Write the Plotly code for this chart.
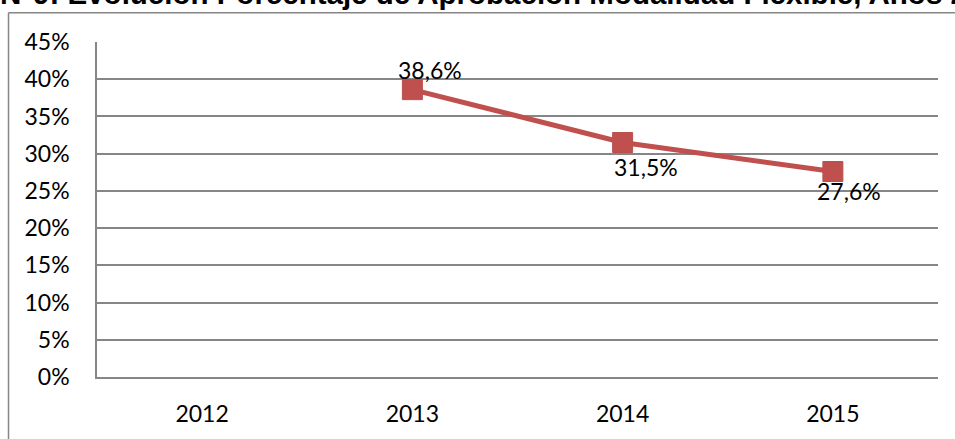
import plotly.graph_objects as go

years = ["2012", "2013", "2014", "2015"]
aprobacion = [None, 38.6, 31.5, 27.6]
etiquetas = ["", "38,6%", "31,5%", "27,6%"]
y_ticks = [0, 5, 10, 15, 20, 25, 30, 35, 40, 45]
y_tick_text = [f"{v}%" for v in y_ticks]
titulo = "N°9: Evolución Porcentaje de Aprobación Modalidad Flexible, Años 2012-2015"

# label offsets (px) relative to marker
label_dx = [0, 18, 23, 16]
label_dy = [0, 20, -24, -19]

W, H = 955, 439
L, R, T, B = 97, 17, 42, 60
pw, ph = W - L - R, H - T - B

RED = "#C0504D"
GRAY = "#868686"
FONT = "Lato"
FS = 23

fig = go.Figure()
fig.add_trace(go.Scatter(
    x=years, y=aprobacion, mode="lines+markers",
    line=dict(color=RED, width=5),
    marker=dict(symbol="square", size=20, color=RED, line=dict(color="#B9504D", width=1)),
    connectgaps=False, showlegend=False, hoverinfo="skip",
))

for i, (yv, t, dx, dy) in enumerate(zip(aprobacion, etiquetas, label_dx, label_dy)):
    if yv is None:
        continue
    fig.add_annotation(x=i, y=yv, text=t, showarrow=False, xshift=dx, yshift=dy,
                       font=dict(family=FONT, size=FS, color="#000000"))

def px_x(p):
    return (p - L) / pw

def px_y(p):
    return (H - B - p) / ph

# outer chart frame (clipped by page on right/bottom)
fig.add_shape(type="line", xref="paper", yref="paper",
              x0=px_x(8.5), x1=px_x(970), y0=px_y(12.5), y1=px_y(12.5),
              line=dict(color=GRAY, width=1.5))
fig.add_shape(type="line", xref="paper", yref="paper",
              x0=px_x(8.5), x1=px_x(8.5), y0=px_y(12.5), y1=px_y(460),
              line=dict(color=GRAY, width=1.5))

fig.add_annotation(xref="paper", yref="paper", x=px_x(-2), y=px_y(12),
                   xanchor="left", yanchor="bottom", showarrow=False,
                   text=f"<b>{titulo}</b>",
                   font=dict(family="Liberation Sans", size=29.5, color="#000000"))

fig.update_layout(
    width=W, height=H,
    margin=dict(l=L, r=R, t=T, b=B, pad=0),
    paper_bgcolor="white", plot_bgcolor="white",
    font=dict(family=FONT, size=FS, color="#000000"),
)
fig.update_xaxes(
    type="category", categoryorder="array", categoryarray=years,
    range=[-0.5, 3.5], showgrid=False, showline=True, linecolor=GRAY, linewidth=1.5,
    ticks="", ticklabelstandoff=16, tickfont=dict(family=FONT, size=FS),
    zeroline=False, fixedrange=True,
)
fig.update_yaxes(
    range=[0, 45], tickvals=y_ticks, ticktext=y_tick_text,
    showgrid=True, gridcolor=GRAY, gridwidth=1.5,
    showline=True, linecolor=GRAY, linewidth=1.5,
    ticks="", ticklabelstandoff=21, tickfont=dict(family=FONT, size=FS),
    zeroline=False, fixedrange=True,
)

fig.write_html("out.html", config={"displayModeBar": False},
               post_script="document.body.style.margin='0';document.body.style.overflow='hidden';")
